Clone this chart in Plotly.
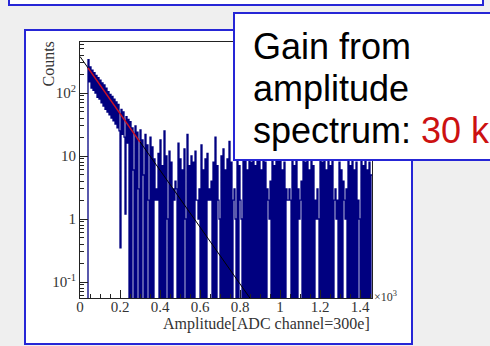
import numpy as np
import plotly.graph_objects as go

# ---------------- data ----------------
BIN_WIDTH = 0.005          # bin width in units of 10^3 ADC channels
counts = [
    0, 0, 0, 0, 0, 0, 0, 0,
    340, 150, 260, 120, 230, 110, 210, 100, 190, 85,
    175, 80, 160, 70, 145, 62, 135, 55, 120, 50,
    105, 45, 95, 40, 88, 36, 80, 32, 72, 28,
    66, 25, 0.35, 55, 22, 50, 20, 1.2, 42, 16,
    38, 0,
    35, 0, 28, 6, 0, 30, 0, 24, 3, 0,
    26, 0, 18, 5, 0, 22, 0, 15, 2, 0,
    20,
    0, 14, 0, 9, 2, 3, 2, 11, 0, 18,
    0, 7, 0, 25, 0, 10, 1, 0, 12, 0,
    8, 0, 3, 2, 4, 3, 0, 16, 0, 9,
    0, 6, 0, 13, 1, 0, 22, 0, 7, 0,
    10, 0, 8, 0, 12, 2, 2, 1, 3, 0,
    15, 0, 6, 0, 9, 0, 11, 2, 3, 2,
    4, 0, 8, 0, 20, 0, 7, 2, 1, 0,
    10, 0, 13, 0, 6, 0, 9, 0, 17, 0,
    8, 0, 2, 3, 1, 0, 11, 0, 7, 2,
    1, 0, 14, 0, 9, 0, 6, 0, 12, 0,
    8, 0, 10, 0, 7, 0, 15, 0, 9, 0,
    6, 0, 11, 0, 8, 0, 3, 2, 1, 4,
    0, 12, 0, 7, 0, 10, 0, 9, 0, 13,
    0, 6, 0, 8, 0, 3, 2, 2, 3, 2,
    0, 11, 0, 7, 0, 9, 0, 3, 1, 2,
    4, 0, 10, 0, 8, 0, 12, 0, 6, 0,
    9, 0, 7, 0, 2, 1, 3, 1, 0, 10,
    0, 8, 0, 11, 0, 6, 0, 9, 0, 7,
    0, 10, 0, 2, 3, 1, 2, 0, 8, 0,
    6, 0, 4, 2, 1, 3, 0, 9, 0, 7,
    0, 10, 0, 6, 0, 8, 0, 2, 1, 0,
    9, 0, 7, 0, 11, 0, 6, 0, 8, 0, 5,
]
# exponential fit (straight line on log axis): full function and fit range
fit_full_x = [0.0, 0.90]
fit_full_y = [380.0, 0.033]
fit_range_x = [0.04, 0.30]
fit_range_y = [251.0, 16.6]

x_ticks = [0, 0.2, 0.4, 0.6, 0.8, 1.0, 1.2, 1.4]
x_ticktext = ["0", "0.2", "0.4", "0.6", "0.8", "1", "1.2", "1.4"]
y_ticks = [0.1, 1, 10, 100]
y_ticktext = ["10<sup>-1</sup>", "1", "10", "10<sup>2</sup>"]
y_minor = [0.06, 0.07, 0.08, 0.09, 0.2, 0.3, 0.4, 0.5, 0.6, 0.7, 0.8, 0.9,
           2, 3, 4, 5, 6, 7, 8, 9, 20, 30, 40, 50, 60, 70, 80, 90,
           200, 300, 400, 500, 600]

x_title = "Amplitude[ADC channel=300e]"
y_title = "Counts"
note_lines = ["Gain from", "amplitude"]
note_last = "spectrum: "
note_value = "30 k"

# ---------------- figure ----------------
W, H = 490, 346
L, R, T, B = 80, 372, 42, 298   # plot-area pixel box


def px(x):
    return (x - L) / (R - L)


def py(y):
    return (B - y) / (B - T)


cnt = np.array(counts, dtype=float)
edges = np.arange(len(cnt) + 1) * BIN_WIDTH
yplot = np.where(cnt > 0, cnt, 1e-3)
yplot = np.append(yplot, yplot[-1])

BLUE = "#2626d6"
NAVY = "#000080"
SERIF = "Liberation Serif, Times New Roman, serif"
SANS = "Liberation Sans, Arial, sans-serif"

fig = go.Figure()
fig.add_trace(go.Scatter(x=edges, y=yplot, mode="lines", line_shape="hv",
                         line=dict(color=NAVY, width=1.3, simplify=False),
                         hoverinfo="skip"))
fig.add_trace(go.Scatter(x=fit_full_x, y=fit_full_y, mode="lines",
                         line=dict(color="black", width=1), hoverinfo="skip"))
fig.add_trace(go.Scatter(x=fit_range_x, y=fit_range_y, mode="lines",
                         line=dict(color="#c8102a", width=1.6), hoverinfo="skip"))

shapes = [
    # top slide box (partially visible)
    dict(type="rect", xref="paper", yref="paper", layer="below",
         x0=px(9), x1=px(483), y0=py(5), y1=py(-20),
         fillcolor="white", line=dict(color=BLUE, width=2)),
    # figure box
    dict(type="rect", xref="paper", yref="paper", layer="below",
         x0=px(25), x1=px(412), y0=py(344), y1=py(30),
         fillcolor="white", line=dict(color=BLUE, width=2)),
    # text box
    dict(type="rect", xref="paper", yref="paper", layer="above",
         x0=px(234), x1=px(520), y0=py(160), y1=py(13),
         fillcolor="white", line=dict(color=BLUE, width=2)),
]

annotations = [
    dict(text=y_title, xref="paper", yref="paper", x=px(47.5), y=py(64),
         xanchor="center", yanchor="middle", textangle=-90, showarrow=False,
         font=dict(family=SERIF, size=16, color="#333")),
    dict(text=x_title, xref="paper", yref="paper", x=1.0, y=py(324),
         xanchor="right", yanchor="middle", showarrow=False,
         font=dict(family=SERIF, size=16, color="#333")),
    dict(text="\u00d710<sup>3</sup>", xref="paper", yref="paper", x=px(372), y=py(296),
         xanchor="left", yanchor="middle", showarrow=False,
         font=dict(family=SERIF, size=12, color="#333")),
]
for txt, yc in zip(note_lines, [46, 88]):
    annotations.append(dict(text=txt, xref="paper", yref="paper", x=px(251), y=py(yc),
                            xanchor="left", yanchor="middle", showarrow=False,
                            font=dict(family=SANS, size=36, color="black")))
annotations.append(dict(text=note_last + '<span style="color:#cc1111">' + note_value + "</span>",
                        xref="paper", yref="paper", x=px(251), y=py(130),
                        xanchor="left", yanchor="middle", showarrow=False,
                        font=dict(family=SANS, size=36, color="black")))

fig.update_layout(
    width=W, height=H, autosize=False,
    margin=dict(l=L, r=W - R, t=T, b=H - B, pad=0),
    paper_bgcolor="#efefef", plot_bgcolor="rgba(0,0,0,0)",
    showlegend=False, shapes=shapes, annotations=annotations,
    hovermode=False,
    xaxis=dict(range=[0, 1.46], showgrid=False, zeroline=False,
               showline=True, linecolor="#222", linewidth=1, mirror=True,
               ticks="inside", ticklen=8, tickcolor="#222",
               tickvals=x_ticks, ticktext=x_ticktext, ticklabelstandoff=-5,
               minor=dict(ticks="inside", ticklen=4, dtick=0.05, tickcolor="#222"),
               tickfont=dict(family=SERIF, size=15, color="#333")),
    yaxis=dict(type="log", range=[-1.254, 2.81], showgrid=False, zeroline=False,
               showline=True, linecolor="#222", linewidth=1, mirror=True,
               ticks="inside", ticklen=8, tickcolor="#222",
               tickvals=y_ticks, ticktext=y_ticktext,
               minor=dict(ticks="inside", ticklen=4, tickvals=y_minor, tickcolor="#222"),
               tickfont=dict(family=SERIF, size=15, color="#333")),
)

fig.write_html("out.html",
               config={"displayModeBar": False, "staticPlot": True},
               post_script="document.body.style.margin='0px';"
                           "document.body.style.overflow='hidden';")
